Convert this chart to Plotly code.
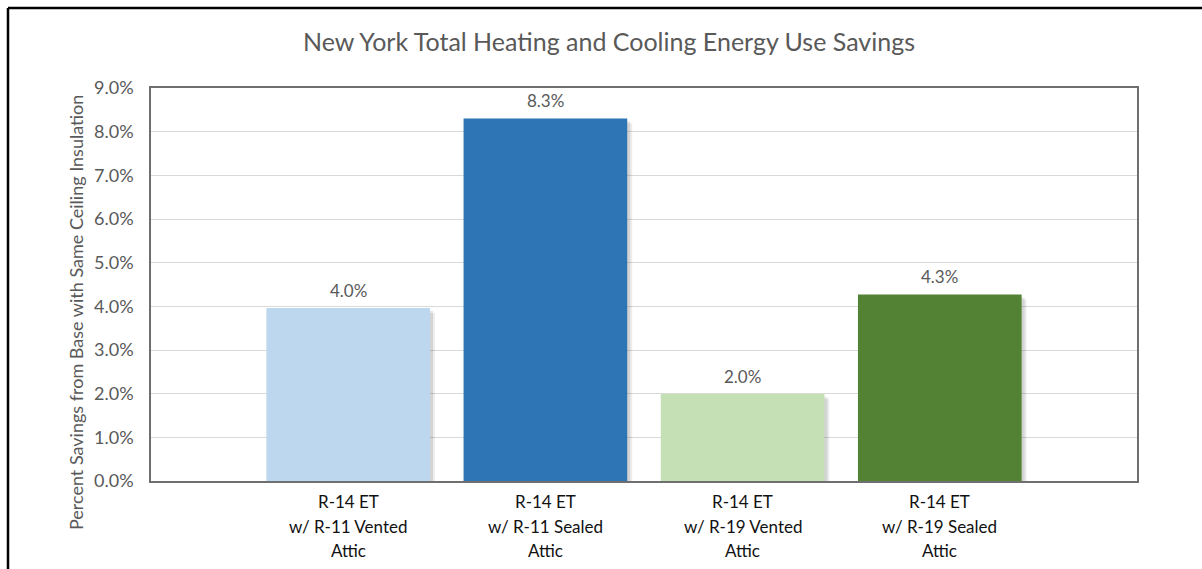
import plotly.graph_objects as go

cat_lines = [["R-14 ET", "w/ R-11 Vented", "Attic"],
             ["R-14 ET", "w/ R-11 Sealed", "Attic"],
             ["R-14 ET", "w/ R-19 Vented", "Attic"],
             ["R-14 ET", "w/ R-19 Sealed", "Attic"]]
categories = ["<br>".join(c) for c in cat_lines]
savings = [0.0396, 0.083, 0.0199, 0.0427]
bar_colors = ["#BDD7EE", "#2E75B6", "#C5E0B4", "#548235"]
title_text = "New York Total Heating and Cooling Energy Use Savings"
y_title = "Percent Savings from Base with Same Ceiling Insulation"

W, H = 1202, 569
L, R, T, B = 151, 65, 88, 88
pw, ph = W - L - R, H - T - B

def px_x(x):
    return (x - L) / pw

def px_y(y):
    return (H - B - y) / ph

font = "Lato, 'Open Sans', sans-serif"
ymax = 0.09
bw = 0.83
slot = pw / 5

fig = go.Figure()
# soft shadow behind bars (two faint layers)
for dpx, alpha in [(5, 0.07), (3, 0.10)]:
    dy = ymax / ph * dpx
    fig.add_trace(go.Bar(
        x=categories, y=[v - dy for v in savings],
        marker=dict(color=f"rgba(0,0,0,{alpha})", line=dict(width=0)),
        width=bw, offset=-bw / 2 + dpx / slot, hoverinfo="skip",
    ))
fig.add_trace(go.Bar(
    x=categories, y=savings, marker=dict(color=bar_colors, line=dict(width=0)),
    width=bw, offset=-bw / 2,
))

annotations = [dict(text=y_title, xref="paper", yref="paper", x=px_x(76), y=px_y(313),
                    textangle=-90, showarrow=False, xanchor="center", yanchor="middle",
                    font=dict(family=font, size=18, color="#595959"))]
for c, v in zip(categories, savings):
    annotations.append(dict(text=f"{v:.1%}", x=c, y=v, xref="x", yref="y", showarrow=False,
                            yshift=18, yanchor="middle",
                            font=dict(family=font, size=17, color="#595959")))
line_y = [501, 526, 550]
for c, lines in zip(categories, cat_lines):
    for ln, ly in zip(lines, line_y):
        annotations.append(dict(text=ln, x=c, xref="x", yref="paper", y=px_y(ly), showarrow=False,
                                yanchor="middle", font=dict(family=font, size=17, color="#111111")))

fig.update_layout(
    width=W, height=H, margin=dict(l=L, r=R, t=T, b=B),
    paper_bgcolor="white", plot_bgcolor="white", showlegend=False, barmode="overlay",
    title=dict(text=title_text, x=609 / W, xanchor="center", y=1 - 42 / H, yanchor="middle",
               font=dict(family=font, size=25, color="#595959")),
    xaxis=dict(type="category", range=[-1, 4], showgrid=False, showticklabels=False,
               showline=True, linecolor="#6f6f6f", linewidth=1.5, mirror=True, ticks=""),
    yaxis=dict(range=[0, ymax], dtick=0.01, tickformat=".1%", showgrid=True, gridcolor="#d9d9d9",
               gridwidth=1, showline=True, linecolor="#6f6f6f", linewidth=1.5, mirror=True,
               zeroline=False, ticks="", ticklabelstandoff=12,
               tickfont=dict(family=font, size=18, color="#595959")),
    annotations=annotations,
    shapes=[
        dict(type="line", xref="paper", yref="paper", x0=px_x(8), x1=px_x(8), y0=px_y(8), y1=px_y(575),
             line=dict(color="black", width=2.5)),
        dict(type="line", xref="paper", yref="paper", x0=px_x(8), x1=px_x(1210), y0=px_y(8), y1=px_y(8),
             line=dict(color="black", width=2.5)),
    ],
)

fig.write_html("out.html", config={"displayModeBar": False},
               post_script="document.body.style.margin='0';document.body.style.overflow='hidden';")
